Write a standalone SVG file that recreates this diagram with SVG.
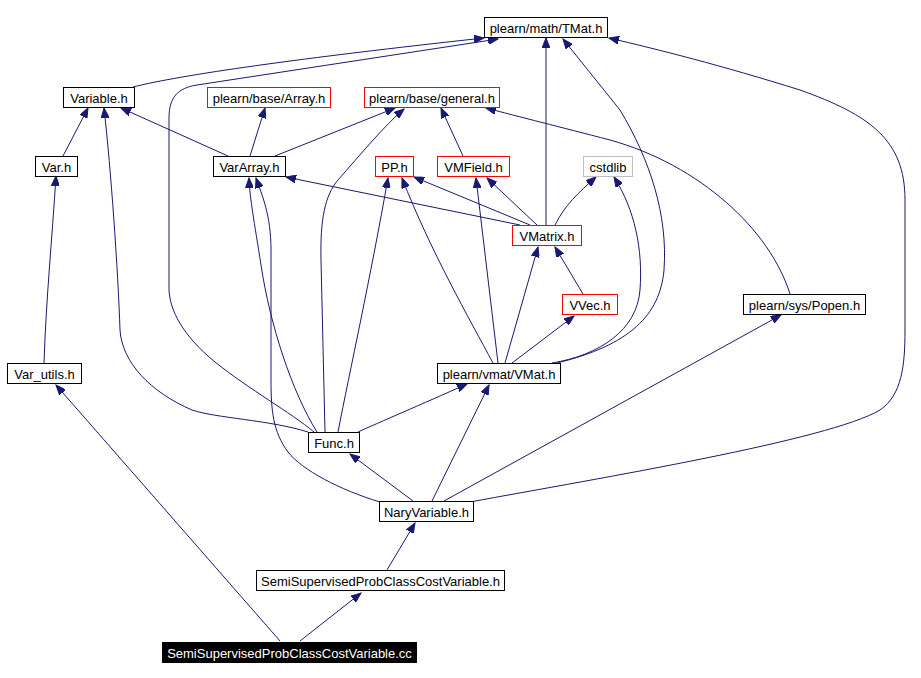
<svg xmlns="http://www.w3.org/2000/svg" width="921" height="678" viewBox="0 0 921 678">
<style>
.n rect{fill:#fff;stroke:#000;stroke-width:1}
.r rect{stroke:#f00}
.g rect{stroke:#bfbfbf}
.k rect{fill:#000}
.n text{font-family:"Liberation Sans",Arial,sans-serif;font-size:13px;fill:#000;text-anchor:middle}
.k text{fill:#fff}
#edges path{fill:none;stroke:#191970;stroke-width:1;marker-end:url(#ah)}
</style>
<defs>
<marker id="ah" markerUnits="userSpaceOnUse" markerWidth="11" markerHeight="8" refX="10" refY="4" orient="auto">
<path d="M0,0 L10,4 L0,8 z" fill="#191970" stroke="#191970" stroke-width="1"/>
</marker>
</defs>
<rect width="921" height="678" fill="#fff"/>
<g id="edges">
<path d="M280,641 L56,385"/>
<path d="M300,641 L361,593"/>
<path d="M387,570 L415,523"/>
<path d="M413,501 L350,454"/>
<path d="M432,501 L489,385"/>
<path d="M444,501 L781,315"/>
<path d="M470,502 C600,478 830,440 880,410 C902,395 905,365 905,330 L905,200 C905,140 870,115 800,90 C720,65 660,50 609,38"/>
<path d="M380,502 C340,490 302,470 288,452 C273,432 271,410 271,380 L271,250 C271,215 262,195 256,178"/>
<path d="M317,432 C292,392 270,325 261,265 C254,220 250,200 249,178"/>
<path d="M308,432 C270,420 215,418 192,410 C150,392 122,362 120,330 C118,270 111,170 104,108"/>
<path d="M314,432 C290,412 250,390 215,362 C182,335 170,310 169,290 L169,118 C169,97 178,88 197,85 L498,39"/>
<path d="M325,432 L321,260 C320,220 325,195 338,180 C360,155 385,125 404,109"/>
<path d="M338,432 C350,370 370,280 388,178"/>
<path d="M493,363 C470,320 430,250 402,178"/>
<path d="M498,363 L476,178"/>
<path d="M505,363 L538,247"/>
<path d="M512,363 L574,316"/>
<path d="M552,363 C600,355 637,330 640,290 C643,250 635,210 614,177"/>
<path d="M557,363 C630,345 660,315 664,270 C668,215 650,160 620,110 L563,39"/>
<path d="M546,225 L546,38"/>
<path d="M520,225 L286,177"/>
<path d="M530,225 L414,177"/>
<path d="M537,225 L487,178"/>
<path d="M555,225 C565,205 578,193 596,177"/>
<path d="M583,294 L555,247"/>
<path d="M790,294 C770,230 700,165 610,140 C560,127 520,117 486,108"/>
<path d="M44,363 C46,300 52,240 56,176"/>
<path d="M63,156 L88,108"/>
<path d="M228,156 L121,108"/>
<path d="M250,156 L265,108"/>
<path d="M275,156 L395,108"/>
<path d="M463,156 L441,108"/>
<path d="M133,87 C180,75 300,58 484,38"/>
<path d="M358,432 C380,422 420,405 467,384"/>
</g>
<g id="tmat" class="n"><rect x="484.5" y="17.5" width="123" height="20"/><text x="546" y="33">plearn/math/TMat.h</text></g>
<g id="variable" class="n"><rect x="63.5" y="87.5" width="71" height="20"/><text x="99" y="103">Variable.h</text></g>
<g id="array" class="n r"><rect x="207.5" y="87.5" width="123" height="20"/><text x="269" y="103">plearn/base/Array.h</text></g>
<g id="general" class="n r"><rect x="364.5" y="87.5" width="135" height="20"/><text x="432" y="103">plearn/base/general.h</text></g>
<g id="var" class="n"><rect x="35.5" y="156.5" width="42" height="20"/><text x="56.5" y="172">Var.h</text></g>
<g id="vararray" class="n"><rect x="213.5" y="156.5" width="72" height="20"/><text x="249.5" y="172">VarArray.h</text></g>
<g id="pp" class="n r"><rect x="375.5" y="156.5" width="38" height="20"/><text x="394.5" y="172">PP.h</text></g>
<g id="vmfield" class="n r"><rect x="437.5" y="156.5" width="72" height="20"/><text x="473.5" y="172">VMField.h</text></g>
<g id="cstdlib" class="n g"><rect x="583.5" y="156.5" width="49" height="20"/><text x="608" y="172">cstdlib</text></g>
<g id="vmatrix" class="n r"><rect x="512.5" y="225.5" width="69" height="20"/><text x="547" y="241">VMatrix.h</text></g>
<g id="vvec" class="n r"><rect x="562.5" y="294.5" width="55" height="20"/><text x="590" y="310">VVec.h</text></g>
<g id="popen" class="n"><rect x="743.5" y="294.5" width="122" height="20"/><text x="804.5" y="310">plearn/sys/Popen.h</text></g>
<g id="varutils" class="n"><rect x="7.5" y="363.5" width="74" height="20"/><text x="44.5" y="379">Var_utils.h</text></g>
<g id="vmat" class="n"><rect x="437.5" y="363.5" width="123" height="20"/><text x="499" y="379">plearn/vmat/VMat.h</text></g>
<g id="func" class="n"><rect x="308.5" y="432.5" width="51" height="20"/><text x="334" y="448">Func.h</text></g>
<g id="nary" class="n"><rect x="379.5" y="501.5" width="94" height="20"/><text x="426.5" y="517">NaryVariable.h</text></g>
<g id="semih" class="n"><rect x="256.5" y="570.5" width="248" height="20"/><text x="380.5" y="586">SemiSupervisedProbClassCostVariable.h</text></g>
<g id="semicc" class="n k"><rect x="162.5" y="642.5" width="254" height="20"/><text x="289.5" y="658">SemiSupervisedProbClassCostVariable.cc</text></g>
</svg>
